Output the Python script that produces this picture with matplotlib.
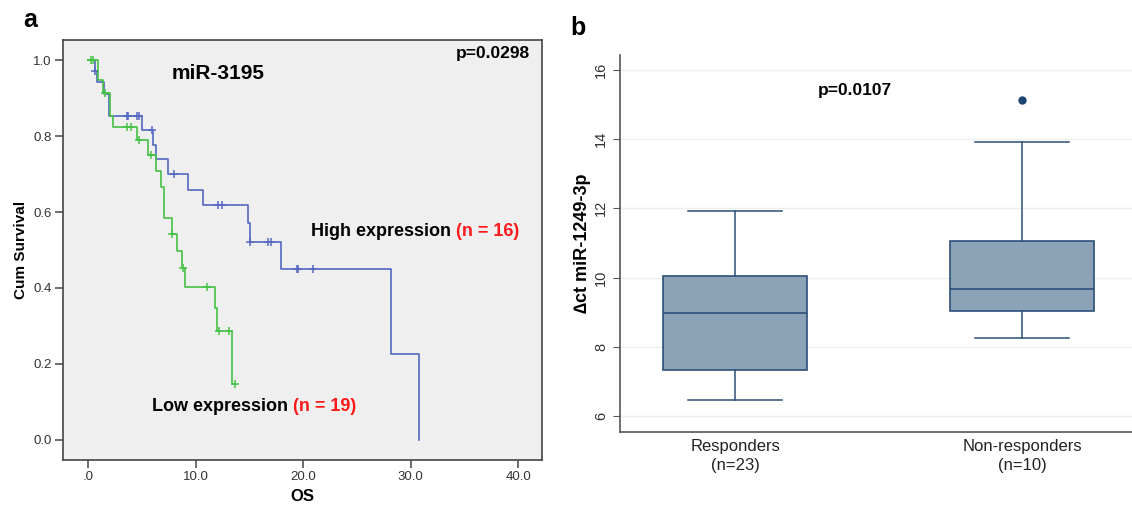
import numpy as np
import matplotlib
matplotlib.use("Agg")
import matplotlib.pyplot as plt

plt.rcParams['font.family'] = ['Liberation Sans', 'DejaVu Sans']

# ---- panel a: Kaplan-Meier, miR-3195 ----
high_t = [0, 0.65, 0.81, 1.5, 1.9, 5.05, 6.07, 6.3, 7.41, 9.33, 10.67, 14.91, 15.07, 17.95, 28.19, 30.73]
high_s = [1.0, 0.972, 0.943, 0.912, 0.853, 0.816, 0.776, 0.739, 0.70, 0.658, 0.618, 0.570, 0.522, 0.449, 0.226, 0.0]
high_cens = [0.65, 3.6, 3.75, 4.59, 4.74, 5.93, 8.03, 12.12, 12.44, 15.07, 16.77, 17.0, 19.41, 19.56, 20.87]

low_t = [0, 0.96, 1.4, 2.05, 2.35, 4.59, 5.61, 6.33, 6.76, 7.1, 7.79, 8.31, 8.77, 9.02, 11.81, 11.97, 13.37]
low_s = [1.0, 0.947, 0.914, 0.853, 0.825, 0.789, 0.75, 0.708, 0.667, 0.583, 0.542, 0.497, 0.452, 0.402, 0.347, 0.288, 0.147]
low_cens = [0.28, 0.49, 1.58, 3.6, 3.97, 4.74, 5.85, 7.79, 8.8, 11.04, 12.21, 13.12, 13.67]

km_xticks = [0, 10, 20, 30, 40]
km_xlabels = ['.0', '10.0', '20.0', '30.0', '40.0']
km_yticks = [0.0, 0.2, 0.4, 0.6, 0.8, 1.0]

# ---- panel b: boxplot, miR-1249-3p ----
groups = ['Responders\n(n=23)', 'Non-responders\n(n=10)']
whislo = [6.45, 8.25]
q1 = [7.33, 9.03]
med = [8.97, 9.67]
q3 = [10.04, 11.07]
whishi = [11.92, 13.91]
fliers = [[], [15.12]]
box_yticks = [6, 8, 10, 12, 14, 16]

BLUE = '#5468c2'
GREEN = '#46c246'
BOXEDGE = '#2c5078'


def km_curve(ax, t, s, cens, color):
    t_end = max(t[-1], max(cens))
    tt = list(t) + [t_end]
    ss = list(s) + [s[-1]]
    ax.step(tt, ss, where='post', color=color, lw=1.2)
    idx = np.searchsorted(t, cens, side='right') - 1
    ax.plot(cens, np.array(s)[idx], ls='none', marker='+', ms=6,
            mew=1.1, color=color)


fig = plt.figure(figsize=(11.32, 5.05), dpi=100)

# panel a
ax = fig.add_axes([0.0557, 0.0891, 0.4231, 0.8317])
ax.set_facecolor('#efefef')
km_curve(ax, high_t, high_s, high_cens, BLUE)
km_curve(ax, low_t, low_s, low_cens, GREEN)
ax.set_xlim(-2.33, 42.2)
ax.set_ylim(-0.053, 1.053)
ax.set_xticks(km_xticks)
ax.set_xticklabels(km_xlabels)
ax.set_yticks(km_yticks)
ax.set_yticklabels(['%.1f' % v for v in km_yticks])
for sp in ax.spines.values():
    sp.set_color('#444444')
    sp.set_linewidth(1.2)
ax.tick_params(direction='out', length=6, width=1.1, color='#444444',
               labelsize=9.5, labelcolor='#333333', pad=2)
ax.set_xlabel('OS', fontsize=12, fontweight='bold', labelpad=4)
ax.set_ylabel('Cum Survival', fontsize=11, fontweight='bold', labelpad=4)
ax.text(12.1, 0.966, 'miR-3195', fontsize=15, fontweight='bold',
        ha='center', va='center')
ax.text(41.1, 1.017, 'p=0.0298', fontsize=12.5, fontweight='bold',
        ha='right', va='center')
t1 = ax.text(20.74, 0.55, 'High expression ', fontsize=13, fontweight='bold',
             ha='left', va='center')
ax.annotate('(n = 16)', xycoords=t1, xy=(1, 0.5), va='center', ha='left',
            fontsize=13, fontweight='bold', color='#ff1a1a')
t2 = ax.text(5.95, 0.087, 'Low expression ', fontsize=13, fontweight='bold',
             ha='left', va='center')
ax.annotate('(n = 19)', xycoords=t2, xy=(1, 0.5), va='center', ha='left',
            fontsize=13, fontweight='bold', color='#ff1a1a')
fig.text(0.027, 0.96, 'a', fontsize=18, fontweight='bold', ha='center', va='center')

# panel b
bx = fig.add_axes([0.5477, 0.1446, 0.4523, 0.7465])
stats = []
for i in range(len(groups)):
    stats.append(dict(whislo=whislo[i], q1=q1[i], med=med[i], q3=q3[i],
                      whishi=whishi[i], fliers=fliers[i]))
bx.bxp(stats, positions=[0, 1], widths=0.5, capwidths=0.33, patch_artist=True,
       boxprops=dict(facecolor='#8ca2b7', edgecolor=BOXEDGE, lw=1.2),
       medianprops=dict(color=BOXEDGE, lw=1.2),
       whiskerprops=dict(color=BOXEDGE, lw=1.1),
       capprops=dict(color=BOXEDGE, lw=1.1),
       flierprops=dict(marker='o', markerfacecolor='#1d4470',
                       markeredgecolor='#1d4470', markersize=5))
bx.set_xlim(-0.401, 1.383)
bx.set_ylim(5.54, 16.43)
bx.set_yticks(box_yticks)
bx.set_yticklabels([str(v) for v in box_yticks], rotation=90, va='center')
bx.set_xticks([0, 1])
bx.set_xticklabels(groups, fontsize=12, linespacing=1.35)
bx.grid(axis='y', color='#eaf0f0', lw=1)
bx.set_axisbelow(True)
bx.spines['top'].set_visible(False)
bx.spines['right'].set_visible(False)
for k in ('left', 'bottom'):
    bx.spines[k].set_color('#555555')
    bx.spines[k].set_linewidth(1.2)
bx.tick_params(axis='y', direction='out', length=5, color='#555555',
               labelsize=10.5, labelcolor='#333333')
bx.tick_params(axis='x', length=0, pad=5, labelcolor='#222222')
bx.set_ylabel('\u2206ct miR-1249-3p', fontsize=13, fontweight='bold', labelpad=2)
bx.text(0.418, 15.41, 'p=0.0107', fontsize=12.5, fontweight='bold',
        ha='center', va='center')
fig.text(0.511, 0.945, 'b', fontsize=18, fontweight='bold', ha='center', va='center')

fig.savefig('out.png', dpi=100)
